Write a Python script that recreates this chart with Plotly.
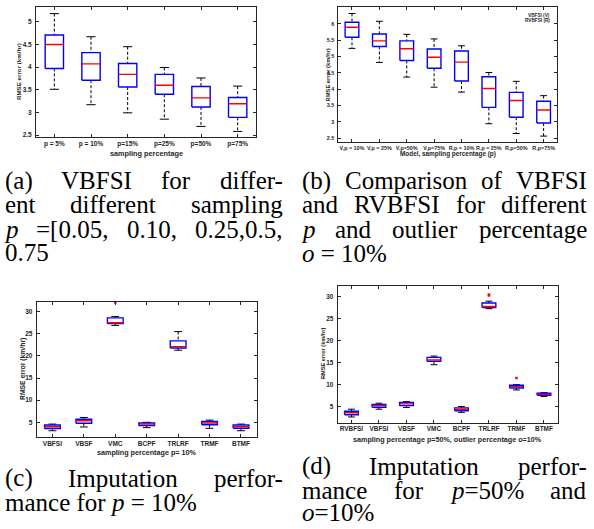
import re
import plotly.graph_objects as go

W, H = 594, 529

# ---------------- data ----------------
a_labels = ["p = 5%", "p = 10%", "p=15%", "p=25%", "p=50%", "p=75%"]
a_hi = [5.18, 4.67, 4.45, 3.99, 3.76, 3.58]
a_q3 = [4.71, 4.32, 4.08, 3.84, 3.57, 3.33]
a_med = [4.50, 4.07, 3.84, 3.60, 3.32, 3.19]
a_q1 = [3.97, 3.71, 3.56, 3.40, 3.12, 2.89]
a_lo = [3.51, 3.17, 2.99, 2.85, 2.69, 2.58]
a_yticks = [2.5, 3, 3.5, 4, 4.5, 5]

b_labels = ["V,p = 10%", "V,p = 25%", "V,p=50%", "V,p=75%",
            "R,p = 10%", "R,p = 25%", "R,p=50%", "R,p=75%"]
b_hi = [6.32, 6.08, 5.68, 5.54, 5.33, 4.51, 4.24, 3.80]
b_q3 = [6.05, 5.69, 5.48, 5.23, 5.17, 4.38, 3.90, 3.63]
b_med = [5.90, 5.48, 5.24, 4.98, 4.83, 4.02, 3.65, 3.36]
b_q1 = [5.59, 5.31, 4.88, 4.64, 4.25, 3.44, 3.14, 2.96]
b_lo = [5.25, 4.82, 4.37, 4.06, 3.91, 2.94, 2.64, 2.56]
b_yticks = [2.5, 3, 3.5, 4, 4.5, 5, 5.5, 6]

c_labels = ["VBFSI", "VBSF", "VMC", "BCPF", "TRLRF", "TRMF", "BTMF"]
c_hi = [4.6, 6.1, 28.9, 5.0, 25.5, 5.5, 4.6]
c_q3 = [4.4, 5.7, 28.6, 4.85, 23.4, 5.2, 4.4]
c_med = [4.0, 5.35, 27.5, 4.6, 22.1, 4.85, 4.0]
c_q1 = [3.6, 4.8, 27.3, 4.25, 21.8, 4.45, 3.65]
c_lo = [3.1, 3.95, 26.9, 3.8, 21.3, 3.65, 3.1]
c_out_x = [3]
c_out_y = [32.1]
c_yticks = [5, 10, 15, 20, 25, 30]

d_labels = ["RVBFSI", "VBFSI", "VBSF", "VMC", "BCPF", "TRLRF", "TRMF", "BTMF"]
d_hi = [4.5, 5.85, 6.2, 16.5, 5.1, 28.9, 10.05, 8.25]
d_q3 = [4.05, 5.55, 6.0, 16.2, 4.8, 28.5, 9.9, 8.1]
d_med = [3.7, 5.3, 5.7, 15.6, 4.5, 27.7, 9.6, 7.85]
d_q1 = [3.25, 4.95, 5.3, 15.3, 4.15, 27.45, 9.3, 7.65]
d_lo = [2.75, 4.5, 4.9, 14.55, 3.8, 27.2, 8.85, 7.35]
d_out_x = [6, 6, 7]
d_out_y = [30.2, 30.4, 11.55]
d_yticks = [5, 10, 15, 20, 25, 30]


def fx(x):
    return x / W


def fy(y):
    return 1 - y / H


TXT = "#262626"
SANS = "Liberation Sans"
SERIF = "Liberation Serif"

panels = [
    dict(labels=a_labels, hi=a_hi, q3=a_q3, med=a_med, q1=a_q1, lo=a_lo,
         ox=[], oy=[], xpx=(36, 256), ypx=(7.3, 137.3), yr=[2.45, 5.32],
         yt=a_yticks, tf=6.5),
    dict(labels=b_labels, hi=b_hi, q3=b_q3, med=b_med, q1=b_q1, lo=b_lo,
         ox=[], oy=[], xpx=(338.3, 557.3), ypx=(7.3, 142.3), yr=[2.37, 6.51],
         yt=b_yticks, tf=5.4),
    dict(labels=c_labels, hi=c_hi, q3=c_q3, med=c_med, q1=c_q1, lo=c_lo,
         ox=c_out_x, oy=c_out_y, xpx=(36.7, 256.7), ypx=(301.7, 436.7),
         yr=[1.75, 32.26], yt=c_yticks, tf=6.5),
    dict(labels=d_labels, hi=d_hi, q3=d_q3, med=d_med, q1=d_q1, lo=d_lo,
         ox=d_out_x, oy=d_out_y, xpx=(337.7, 557.7), ypx=(286, 422.7),
         yr=[1.45, 32.33], yt=d_yticks, tf=6.4),
]

fig = go.Figure()
layout = dict(width=W, height=H, margin=dict(l=0, r=0, t=0, b=0),
              paper_bgcolor="white", plot_bgcolor="white", showlegend=False)

for k, p in enumerate(panels, start=1):
    xa, ya = f"x{k}", f"y{k}"
    wx, wy, cx, cy, bx, by, mx, my = [], [], [], [], [], [], [], []
    for i in range(len(p["labels"])):
        xi = i + 1
        h, q3, m, q1, lo = p["hi"][i], p["q3"][i], p["med"][i], p["q1"][i], p["lo"][i]
        wx += [xi, xi, None, xi, xi, None]
        wy += [h, q3, None, q1, lo, None]
        cx += [xi - 0.125, xi + 0.125, None, xi - 0.125, xi + 0.125, None]
        cy += [h, h, None, lo, lo, None]
        bx += [xi - 0.25, xi + 0.25, xi + 0.25, xi - 0.25, xi - 0.25, None]
        by += [q1, q1, q3, q3, q1, None]
        mx += [xi - 0.25, xi + 0.25, None]
        my += [m, m, None]
    common = dict(mode="lines", hoverinfo="skip", xaxis=xa, yaxis=ya)
    fig.add_trace(go.Scatter(x=wx, y=wy, line=dict(color="black", width=1, dash="3px,2px"), **common))
    fig.add_trace(go.Scatter(x=cx, y=cy, line=dict(color="black", width=1), **common))
    fig.add_trace(go.Scatter(x=bx, y=by, line=dict(color="#0000FF", width=1.4), **common))
    fig.add_trace(go.Scatter(x=mx, y=my, line=dict(color="#FF0000", width=1.4), **common))
    if p["ox"]:
        fig.add_trace(go.Scatter(x=p["ox"], y=p["oy"], mode="markers", hoverinfo="skip",
                                 xaxis=xa, yaxis=ya, cliponaxis=False,
                                 marker=dict(color="#FF0000", size=2.5, symbol="square")))

    tfont = dict(family=SANS, size=p["tf"], color=TXT, weight="bold")
    axis_common = dict(ticks="inside", ticklen=3, tickcolor=TXT, showline=True,
                       linecolor=TXT, linewidth=1, mirror="ticks", showgrid=False,
                       zeroline=False, tickfont=tfont, fixedrange=True)
    n = len(p["labels"])
    layout[f"xaxis{k}"] = dict(domain=[fx(p["xpx"][0]), fx(p["xpx"][1])], anchor=ya,
                               range=[0.5, n + 0.5], tickmode="array", tickangle=0,
                               tickvals=list(range(1, n + 1)), ticktext=p["labels"],
                               **axis_common)
    layout[f"yaxis{k}"] = dict(domain=[fy(p["ypx"][1]), fy(p["ypx"][0])], anchor=xa,
                               range=p["yr"], tickmode="array", tickvals=p["yt"],
                               ticktext=[f"{v:g}" for v in p["yt"]], ticklabelstandoff=2,
                               **axis_common)

fig.update_layout(**layout)

ann = []


def lab(text, x, y, size, angle=0, xanchor="center", family=SANS, bold=True, color=TXT):
    f = dict(family=family, size=size, color=color)
    if bold:
        f["weight"] = "bold"
    ann.append(dict(text=text, x=fx(x), y=fy(y), xref="paper", yref="paper",
                    showarrow=False, textangle=angle, xanchor=xanchor, yanchor="middle",
                    borderpad=0, borderwidth=0, font=f))


# axis titles
lab("sampling percentage", 146.5, 153, 7.3)
lab("RMSE error (km/hr)", 19, 72, 6.2, angle=-90)
lab("Model, sampling percentage (p)", 448, 154, 6.4)
lab("RMSE error (km/hr)", 327.5, 75, 5.8, angle=-90)
lab("sampling percentage p= 10%", 146.7, 452, 7.2)
lab("RMSE error (km/hr)", 23, 369, 6.8, angle=-90)
lab("sampling percentage p=50%, outlier percentage o=10%", 447.7, 439.5, 7.2)
lab("RMSE error (km/hr)", 323, 354, 5.6, angle=-90)
# legend text in (b)
lab("VBFSI (V)", 539, 15, 4.7)
lab("RVBFSI (R)", 537.5, 20.7, 4.7)

# ---------------- captions (justified like the LaTeX source) ----------------
CS = 25
TIMES = {' ': 250, '(': 333, ')': 333, 'a': 444, 'b': 500, 'c': 444, 'd': 500, 'e': 444,
         'f': 333, 'g': 500, 'h': 500, 'i': 278, 'l': 278, 'm': 778, 'n': 500, 'o': 500,
         'p': 500, 'r': 333, 's': 389, 't': 278, 'u': 500, 'I': 333, 'V': 722, 'B': 667,
         'F': 556, 'S': 556, 'R': 667, 'C': 667, '.': 250, ',': 250, '=': 564, '[': 333,
         '%': 833, '-': 333}
for dch in "0123456789":
    TIMES[dch] = 500


def width(word):
    plain = re.sub(r"<[^>]+>", "", word)
    return sum(TIMES.get(ch, 500) for ch in plain) * CS / 1000.0


def cap_line(words, x0, x1, y, justify=True):
    if not justify or len(words) == 1:
        text = " ".join(words)
        lab(text, x0 + width(text) / 2, y, CS, family=SERIF, bold=False, color="black")
        return
    ws = [width(w) for w in words]
    gap = (x1 - x0 - sum(ws)) / (len(words) - 1)
    x = x0
    for w, wd in zip(words, ws):
        lab(w, x + wd / 2, y, CS, family=SERIF, bold=False, color="black")
        x += wd + gap


LX0, LX1 = 5, 283
RX0, RX1 = 302, 587

cap_line(["(a)", "VBFSI", "for", "differ-"], LX0, LX1, 181)
cap_line(["ent", "different", "sampling"], LX0, LX1, 205)
cap_line(["<i>p</i>", "=[0.05,", "0.10,", "0.25,0.5,"], LX0, LX1, 229)
cap_line(["0.75"], LX0, LX1, 252, justify=False)

cap_line(["(b)", "Comparison", "of", "VBFSI"], RX0, RX1, 181)
cap_line(["and", "RVBFSI", "for", "different"], RX0, RX1, 205)
cap_line(["<i>p</i>", "and", "outlier", "percentage"], RX0, RX1, 229)
cap_line(["<i>o</i> = 10%"], RX0, RX1, 253, justify=False)

cap_line(["(c)", "Imputation", "perfor-"], LX0, LX1, 478)
cap_line(["mance for <i>p</i> = 10%"], LX0, LX1, 502, justify=False)

cap_line(["(d)", "Imputation", "perfor-"], RX0, RX1, 466)
cap_line(["mance", "for", "<i>p</i>=50%", "and"], RX0, RX1, 490)
cap_line(["<i>o</i>=10%"], RX0, RX1, 512, justify=False)

fig.update_layout(annotations=ann)
fig.write_html(
    "out.html",
    config={"displayModeBar": False, "staticPlot": True},
    post_script="document.body.style.margin='0px';document.body.style.overflow='hidden';",
)
